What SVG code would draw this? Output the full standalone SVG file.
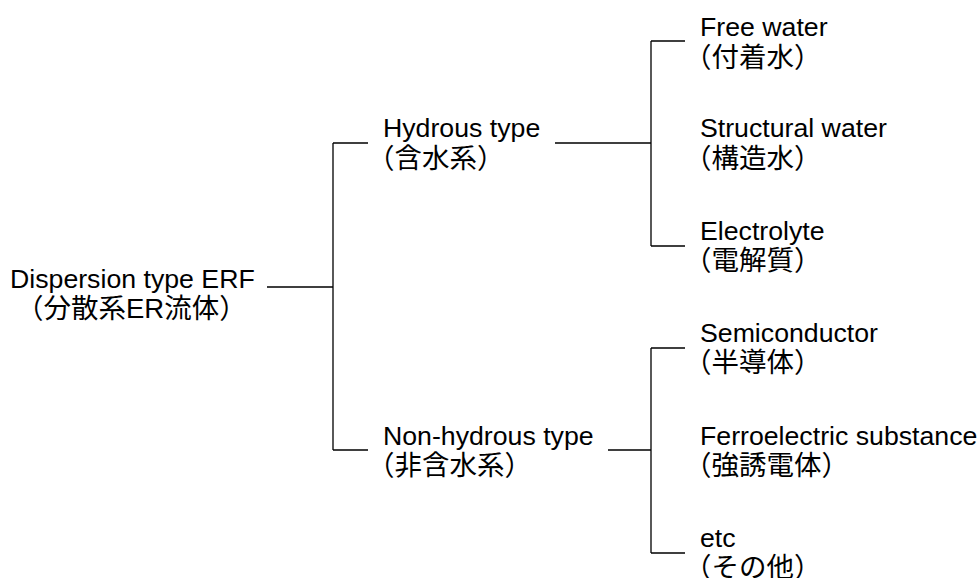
<svg xmlns="http://www.w3.org/2000/svg" width="978" height="578" viewBox="0 0 978 578">
<style>
text{font-family:"Liberation Sans","Noto Sans CJK JP",sans-serif;fill:#000}
.l1{font-size:26.7px}
.l2{font-size:27.5px}
.c{stroke:#000;stroke-width:1.3;fill:none}
</style>
<rect width="978" height="578" fill="#fff"/>
<g id="connectors">
<path class="c" d="M267 287H333M333 143V450M333 143H368M333 450H368"/>
<path class="c" d="M555 143H651M651 41V246M651 41H685M651 246H685"/>
<path class="c" d="M608 450H651M651 348V553M651 348H685M651 553H685"/>
</g>
<g id="root"><text class="l1" x="10" y="288">Dispersion type ERF</text><text class="l2" x="16" y="318">（分散系ER流体）</text></g>
<g id="hydrous"><text class="l1" x="383" y="137">Hydrous type</text><text class="l2" x="367" y="168">（含水系）</text></g>
<g id="nonhydrous"><text class="l1" x="383" y="445">Non-hydrous type</text><text class="l2" x="367" y="475">（非含水系）</text></g>
<g id="freewater"><text class="l1" x="700" y="36">Free water</text><text class="l2" x="684" y="67">（付着水）</text></g>
<g id="structural"><text class="l1" x="700" y="137">Structural water</text><text class="l2" x="684" y="168">（構造水）</text></g>
<g id="electrolyte"><text class="l1" x="700" y="240">Electrolyte</text><text class="l2" x="684" y="270">（電解質）</text></g>
<g id="semiconductor"><text class="l1" x="700" y="342">Semiconductor</text><text class="l2" x="684" y="372">（半導体）</text></g>
<g id="ferro"><text class="l1" x="700" y="445">Ferroelectric substance</text><text class="l2" x="684" y="475">（強誘電体）</text></g>
<g id="etc"><text class="l1" x="700" y="547">etc</text><text class="l2" x="684" y="577">（その他）</text></g>
</svg>
